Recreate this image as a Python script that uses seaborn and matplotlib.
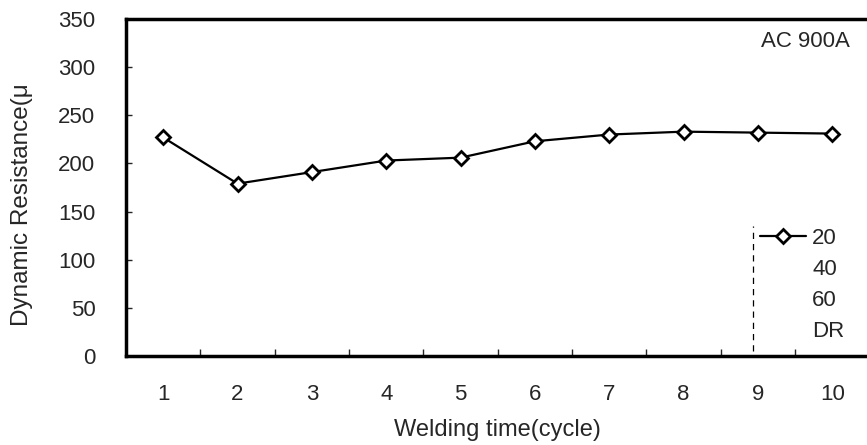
import matplotlib
matplotlib.use("Agg")
import matplotlib.pyplot as plt
import seaborn as sns
import pandas as pd
from matplotlib.lines import Line2D
from matplotlib.ticker import FixedLocator

# ---- data ----
cycles = [1, 2, 3, 4, 5, 6, 7, 8, 9, 10]
resistance_20 = [227, 179, 191, 203, 206, 223, 230, 233, 232, 231]
legend_labels = ["20", "40", "60", "DR"]
y_ticks = [0, 50, 100, 150, 200, 250, 300, 350]
annotation = "AC 900A"
x_label = "Welding time(cycle)"
y_label = "Dynamic Resistance(\u03bc"

df = pd.DataFrame({"cycle": cycles, "resistance": resistance_20})

sns.set_style("white")
plt.rcParams["font.family"] = ["Liberation Sans", "DejaVu Sans"]

fig = plt.figure(figsize=(8.67, 4.45), dpi=100)
ax = fig.add_axes([126 / 867, 1 - 356 / 445, 742 / 867, 337 / 445])

sns.lineplot(data=df, x="cycle", y="resistance", ax=ax, color="black",
             linewidth=1.6, marker="D", markersize=7.5, markerfacecolor="white",
             markeredgecolor="black", markeredgewidth=2.0, legend=False)

ax.set_xlim(0.5, 10.48)
ax.set_ylim(0, 350)
ax.set_xticks(cycles)
ax.set_xticklabels([str(c) for c in cycles])
ax.xaxis.set_minor_locator(FixedLocator([c + 0.5 for c in cycles[:-1]]))
ax.set_yticks(y_ticks)

ax.tick_params(axis="x", which="major", length=0, pad=20, labelsize=16)
ax.tick_params(axis="x", which="minor", direction="in", length=5, width=1, bottom=True)
ax.tick_params(axis="y", which="major", direction="in", length=4, width=1, pad=22,
               labelsize=16, left=True)

for side in ["left", "bottom", "top"]:
    ax.spines[side].set_linewidth(2.5)
    ax.spines[side].set_color("black")
ax.spines["right"].set_visible(False)

ax.set_xlabel(x_label, fontsize=17, labelpad=10)
ax.set_ylabel(y_label, fontsize=17.5)
ax.yaxis.set_label_coords(-0.126, 0.45)

ax.text(0.976, 0.934, annotation, transform=ax.transAxes, ha="right", va="center", fontsize=16)

# legend
handles = [Line2D([], [], color="black", linewidth=1.6, marker="D", markersize=7.5,
                  markerfacecolor="white", markeredgecolor="black", markeredgewidth=2.0)]
for _ in legend_labels[1:]:
    handles.append(Line2D([], [], color="none", linewidth=0))
leg = ax.legend(handles, legend_labels, loc="upper left", bbox_to_anchor=(0.854, 0.379),
                frameon=False, fontsize=16, handlelength=2.1, handletextpad=0.27,
                labelspacing=0.45, borderaxespad=0, borderpad=0)
ax.plot([0.845, 0.845], [0.015, 0.387], transform=ax.transAxes, color="black",
        linewidth=0.9, linestyle=(0, (5, 4)), clip_on=False)

fig.savefig("out.png", dpi=100)
